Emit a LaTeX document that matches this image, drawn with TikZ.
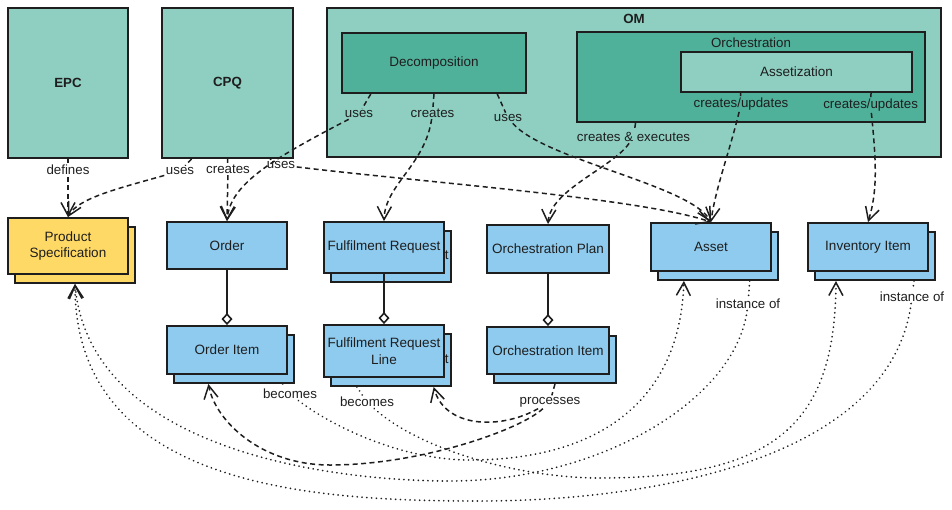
\documentclass[tikz,border=0pt]{standalone}
\usepackage{fontspec}
\setmainfont{Liberation Sans}
\usetikzlibrary{arrows.meta,calc}
\definecolor{ink}{HTML}{1E1E1E}
\definecolor{tealL}{HTML}{8ECFC2}
\definecolor{tealD}{HTML}{50B19B}
\definecolor{entity}{HTML}{8ECBEF}
\definecolor{spec}{HTML}{FFD966}
\tikzset{
  box/.style={draw=ink, line width=1.9pt, text=ink, inner sep=2pt, align=center,
              font=\fontsize{13.5}{16.5}\selectfont},
  head/.style={font=\fontsize{13.3}{16}\selectfont\bfseries, text=ink},
  lbl/.style={font=\fontsize{13.3}{15}\selectfont, text=ink, inner sep=1.5pt},
  dep/.style={draw=ink, line width=1.5pt, dash pattern=on 5pt off 3.5pt,
              -{Straight Barb[length=13pt,width=14pt]}},
  inst/.style={draw=ink, line width=1.9pt, dash pattern=on 0.01pt off 4.8pt, line cap=round,
              -{Straight Barb[length=13pt,width=14pt,line width=1.5pt]}},
  part/.style={draw=ink, line width=1.6pt, -{Diamond[open,length=12pt,width=11pt]}},
}
% stacked entity: {name}{x}{y}{width}{height}{fill}{text}
\newcommand{\stackbox}[7]{%
  \node[box, fill=#6, minimum width=#4pt, minimum height=#5pt] (#1B) at ({#2+7},{#3+9}) {};
  \node[box, fill=#6, minimum width=#4pt, minimum height=#5pt] (#1) at (#2,#3) {#7};}
% last letter of the hidden copy, showing past the front box
\newcommand{\peek}[1]{%
  \begin{scope}
    \clip (#1.north east) rectangle (#1B.south east);
    \node[box, draw=none, inner sep=0pt, anchor=base east] (#1Peek) at ($(#1.east)+(4.5,12)$) {t};
  \end{scope}}

\begin{document}
\begin{tikzpicture}[x=1pt,y=-1pt]
\useasboundingbox (0,0) rectangle (952,509);

% ---------- systems
\node[box, head, fill=tealL, minimum width=120pt, minimum height=150pt] (epc) at (68,83) {EPC};
\node[box, head, fill=tealL, minimum width=131pt, minimum height=150pt] (cpq) at (227.5,83) {CPQ};
\node[box, fill=tealL, minimum width=614pt, minimum height=149pt] (om) at (634,82.5) {};
\node[head] (omTitle) at (634,19) {OM};
\node[box, fill=tealD, minimum width=184pt, minimum height=60pt] (decomp) at (434,63) {Decomposition};
\node[box, fill=tealD, minimum width=348pt, minimum height=90pt] (orch) at (751,77) {};
\node[lbl] (orchTitle) at (751,43) {Orchestration};
\node[box, fill=tealL, minimum width=231pt, minimum height=40pt] (assetz) at (796.5,72) {Assetization};

% ---------- entities
\stackbox{prodspec}{68}{246}{120}{56}{spec}{Product\\Specification}
\node[box, fill=entity, minimum width=120pt, minimum height=47pt] (order) at (227,245.5) {Order};
\stackbox{orderItem}{227}{350}{120}{48}{entity}{Order Item}
\stackbox{fr}{384}{247.5}{120}{51}{entity}{Fulfilment Request}
\peek{fr}
\stackbox{frl}{384}{351}{120}{52}{entity}{Fulfilment Request\\Line}
\peek{frl}
\node[box, fill=entity, minimum width=122pt, minimum height=48pt] (plan) at (548,249) {Orchestration Plan};
\stackbox{orchItem}{548}{350.5}{122}{47}{entity}{Orchestration Item}
\stackbox{asset}{711}{247}{120}{48}{entity}{Asset}
\stackbox{inv}{868}{247}{120}{48}{entity}{Inventory Item}

% ---------- composition
\draw[part] (order.south) -- (orderItem.north);
\draw[part] (fr.south) -- (frl.north);
\draw[part] (plan.south) -- (orchItem.north);

% ---------- dependencies from the systems
\node[lbl] (lDefines) at (68,170) {defines};
\draw[dep] (epc.south) -- (lDefines) -- (prodspec.north);
\node[lbl] (lUsesSpec) at (180,171) {uses};
\draw[dep] ($(cpq.south west)!.23!(cpq.south east)$) -- (lUsesSpec)
  .. controls (120,188) and (78,198) .. (prodspec.north);
\node[lbl] (lCreatesOrder) at (228,169) {creates};
\draw[dep] (cpq.south) -- (lCreatesOrder) -- (order.north);
\node[lbl] (lUsesAsset) at (281,165) {uses};
\draw[dep] ($(cpq.south west)!.82!(cpq.south east)$) -- (lUsesAsset)
  .. controls (420,182) and (640,198) .. (asset.north);
\node[lbl] (lUsesOrder) at (359,114) {uses};
\draw[dep] ($(decomp.south west)!.16!(decomp.south east)$) -- (lUsesOrder)
  .. controls (270,160) and (230,185) .. (order.north);
\node[lbl] (lCreatesFR) at (432.5,113) {creates};
\draw[dep] (decomp.south) -- (lCreatesFR) .. controls (425,165) and (385,185) .. (fr.north);
\node[lbl] (lUsesDecAsset) at (508,118) {uses};
\draw[dep] ($(decomp.south west)!.84!(decomp.south east)$) -- (lUsesDecAsset)
  .. controls (545,160) and (690,185) .. (asset.north);
\node[lbl] (lExecutes) at (633.5,137) {creates \& executes};
\draw[dep] ($(orch.south west)!.17!(orch.south east)$) -- (lExecutes)
  .. controls (612,168) and (550,190) .. (plan.north);
\node[lbl] (lUpdAsset) at (741,104) {creates/updates};
\draw[dep] ($(assetz.south west)!.26!(assetz.south east)$) -- (lUpdAsset)
  .. controls (730,150) and (715,190) .. (asset.north);
\node[lbl] (lUpdInv) at (870.6,105) {creates/updates};
\draw[dep] ($(assetz.south west)!.82!(assetz.south east)$) -- (lUpdInv)
  .. controls (876,160) and (878,190) .. (inv.north);

% ---------- lower relations
\node[lbl] (lInstAsset) at (748,304) {instance of};
\draw[inst] ($(assetB.south west)!.76!(assetB.south east)$) -- (lInstAsset)
  .. controls (735,400) and (600,481) .. (450,481)
  .. controls (330,481) and (90,450) .. (prodspecB.south);
\node[lbl] (lInstInv) at (912,297) {instance of};
\draw[inst] ($(invB.south west)!.82!(invB.south east)$) -- (lInstInv)
  .. controls (890,460) and (650,501) .. (480,501)
  .. controls (320,501) and (75,490) .. (prodspecB.south);
\node[lbl] (lBecomesAsset) at (290,394) {becomes};
\draw[inst] ($(orderItemB.south west)!.9!(orderItemB.south east)$) -- (lBecomesAsset)
  .. controls (330,425) and (400,460) .. (470,460)
  .. controls (600,460) and (680,400) .. ($(assetB.south west)!.22!(assetB.south east)$);
\node[lbl] (lBecomesInv) at (367,402) {becomes};
\draw[inst] ($(frlB.south west)!.22!(frlB.south east)$) -- (lBecomesInv)
  .. controls (420,450) and (520,478) .. (600,478)
  .. controls (780,478) and (835,420) .. ($(invB.south west)!.18!(invB.south east)$);
\node[lbl] (lProcesses) at (550,402) {processes};
\draw[dep] (orchItemB.south) -- (lProcesses)
  .. controls (520,430) and (420,465) .. (330,465)
  .. controls (260,465) and (215,420) .. ($(orderItemB.south west)!.29!(orderItemB.south east)$);
\draw[dep] (lProcesses) .. controls (500,430) and (445,428) .. ($(frlB.south west)!.85!(frlB.south east)$);

\end{tikzpicture}
\end{document}
